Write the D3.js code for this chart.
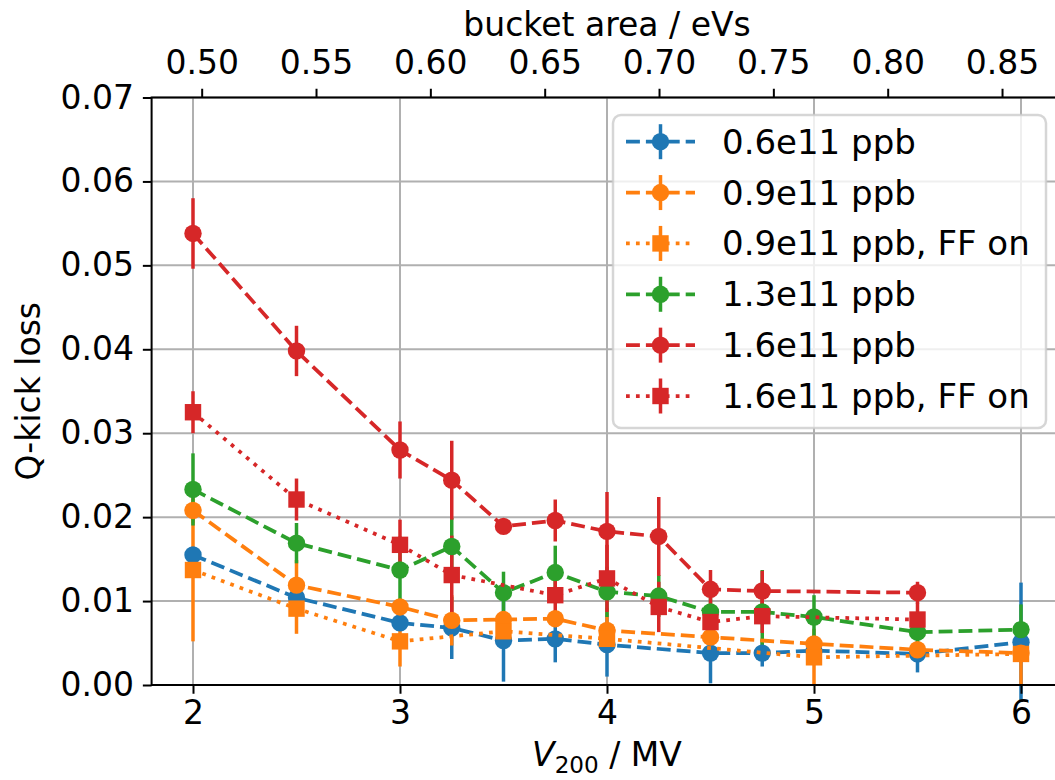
<!DOCTYPE html>
<html>
<meta charset="utf-8">
<title>Q-kick loss vs V200</title>
<style>
body { margin: 0; background: #fff; }
text { font-family: "DejaVu Sans", sans-serif; fill: #000; }
</style>
<body>
<svg id="chart" width="1055" height="780"></svg>
<script src="https://d3js.org/d3.v7.min.js"></script>
<script>
// ---- data ----
var seriesLabels = ["0.6e11 ppb", "0.9e11 ppb", "0.9e11 ppb, FF on", "1.3e11 ppb", "1.6e11 ppb", "1.6e11 ppb, FF on"];

var v06    = [2, 2.5, 3, 3.25, 3.5, 3.75, 4, 4.5, 4.75, 5, 5.5, 6];
var loss06 = [0.0155, 0.0104, 0.0074, 0.0068, 0.0053, 0.0055, 0.0048, 0.0038, 0.0038, 0.0041, 0.0037, 0.0051];
var err06  = [0.001, 0.001, 0.001, 0.0037, 0.0049, 0.0028, 0.0038, 0.0036, 0.0016, 0.001, 0.0022, 0.0071];

var v09    = [2, 2.5, 3, 3.25, 3.5, 3.75, 4, 4.5, 5, 5.5, 6];
var loss09 = [0.0208, 0.0119, 0.0093, 0.0077, 0.0078, 0.0079, 0.0065, 0.0057, 0.0049, 0.0042, 0.0038];
var err09  = [0.0015, 0.003, 0.001, 0.003, 0.001, 0.001, 0.0027, 0.001, 0.001, 0.001, 0.001];

var v09ff    = [2, 2.5, 3, 3.5, 4, 5, 6];
var loss09ff = [0.0137, 0.0091, 0.0052, 0.0064, 0.0055, 0.0033, 0.0037];
var err09ff  = [0.0085, 0.003, 0.003, 0.001, 0.001, 0.0034, 0.0037];

var v13    = [2, 2.5, 3, 3.25, 3.5, 3.75, 4, 4.25, 4.5, 4.75, 5, 5.5, 6];
var loss13 = [0.0233, 0.0169, 0.0137, 0.0165, 0.0110, 0.0134, 0.0111, 0.0106, 0.0087, 0.0087, 0.0081, 0.0063, 0.0066];
var err13  = [0.0043, 0.0024, 0.004, 0.0034, 0.0025, 0.0032, 0.003, 0.0025, 0.002, 0.005, 0.0026, 0.0015, 0.003];

var v16    = [2, 2.5, 3, 3.25, 3.5, 3.75, 4, 4.25, 4.5, 4.75, 5.5];
var loss16 = [0.0538, 0.0398, 0.0280, 0.0244, 0.0189, 0.0196, 0.0183, 0.0177, 0.0114, 0.0112, 0.0110];
var err16  = [0.0042, 0.0030, 0.0034, 0.0047, 0.0005, 0.0025, 0.0047, 0.0047, 0.0023, 0.0024, 0.0013];

var v16ff    = [2, 2.5, 3, 3.25, 3.75, 4, 4.25, 4.5, 4.75, 5.5];
var loss16ff = [0.0325, 0.0221, 0.0167, 0.0131, 0.0107, 0.0127, 0.0093, 0.0075, 0.0082, 0.0078];
var err16ff  = [0.0025, 0.0025, 0.003, 0.0047, 0.0025, 0.004, 0.003, 0.002, 0.002, 0.002];

var voltTicks = [2, 3, 4, 5, 6];
var lossTicks = [0, 0.01, 0.02, 0.03, 0.04, 0.05, 0.06, 0.07];
var areaTicks = [0.50, 0.55, 0.60, 0.65, 0.70, 0.75, 0.80, 0.85];
var voltDomain = [1.8, 6.2];
var areaDomain = [0.4781, 0.8764];

// ---- style ----
var colors = ["#1f77b4", "#ff7f0e", "#ff7f0e", "#2ca02c", "#d62728", "#d62728"];
var markers = ["circle", "circle", "square", "circle", "circle", "square"];
var dashes = ["dash", "dash", "dot", "dash", "dash", "dot"];
var dashArr = {dash: "13.9,6", dot: "3.75,6.2"};
var fs = 33, legFs = 34, lw = 3.75;

function zip(v, l, e) { return v.map(function (d, i) { return {v: d, loss: l[i], err: e[i]}; }); }
var series = [zip(v06, loss06, err06), zip(v09, loss09, err09), zip(v09ff, loss09ff, err09ff),
              zip(v13, loss13, err13), zip(v16, loss16, err16), zip(v16ff, loss16ff, err16ff)];

var svg = d3.select("#chart");
var plotL = 151.6, plotR = 1062.4, plotT = 97.5, plotB = 685;

var x = d3.scaleLinear().domain(voltDomain).range([plotL, plotR]);
var xTop = d3.scaleLinear().domain(areaDomain).range([plotL, plotR]);
var y = d3.scaleLinear().domain([0, 0.07]).range([plotB, plotT]);

// grid
var grid = svg.append("g");
grid.selectAll(".gx").data(voltTicks).enter().append("line")
  .attr("x1", d => x(d)).attr("x2", d => x(d)).attr("y1", plotT).attr("y2", plotB)
  .attr("stroke", "#b0b0b0").attr("stroke-width", 2);
grid.selectAll(".gy").data(lossTicks).enter().append("line")
  .attr("x1", plotL).attr("x2", plotR).attr("y1", d => y(d)).attr("y2", d => y(d))
  .attr("stroke", "#b0b0b0").attr("stroke-width", 2);

// error bars (below all lines)
var bars = svg.append("g");
series.forEach(function (s, i) {
  bars.selectAll(null).data(s).enter().append("line")
    .attr("x1", d => x(d.v)).attr("x2", d => x(d.v))
    .attr("y1", d => y(d.loss - d.err)).attr("y2", d => y(d.loss + d.err))
    .attr("stroke", colors[i]).attr("stroke-width", 3.5);
});

function drawMarker(g, kind, cx, cy, color) {
  if (kind === "circle") {
    g.append("circle").attr("cx", cx).attr("cy", cy).attr("r", 8.7).attr("fill", color);
  } else {
    g.append("rect").attr("x", cx - 8.2).attr("y", cy - 8.2).attr("width", 16.4).attr("height", 16.4).attr("fill", color);
  }
}

var line = d3.line().x(d => x(d.v)).y(d => y(d.loss));
series.forEach(function (s, i) {
  var g = svg.append("g");
  g.append("path").attr("d", line(s)).attr("fill", "none")
    .attr("stroke", colors[i]).attr("stroke-width", lw)
    .attr("stroke-dasharray", dashArr[dashes[i]]);
  s.forEach(function (d) { drawMarker(g, markers[i], x(d.v), y(d.loss), colors[i]); });
});

// spines
svg.append("rect").attr("x", plotL).attr("y", plotT).attr("width", plotR - plotL).attr("height", plotB - plotT)
  .attr("fill", "none").attr("stroke", "#000").attr("stroke-width", 2);

// axes
function styleAxis(g) {
  g.select(".domain").remove();
  g.selectAll(".tick line").attr("stroke", "#000").attr("stroke-width", 2);
  g.selectAll(".tick text").attr("font-size", fs).attr("font-family", "DejaVu Sans");
}
var axB = svg.append("g").attr("transform", "translate(0," + plotB + ")")
  .call(d3.axisBottom(x).tickValues(voltTicks).tickFormat(d3.format("d")).tickSize(8.75).tickPadding(8.75));
styleAxis(axB);
axB.selectAll(".tick text").attr("dy", "0.64em");

var axL = svg.append("g").attr("transform", "translate(" + plotL + ",0)")
  .call(d3.axisLeft(y).tickValues(lossTicks).tickFormat(d3.format(".2f")).tickSize(8.75).tickPadding(8.75));
styleAxis(axL);

var axT = svg.append("g").attr("transform", "translate(0," + plotT + ")")
  .call(d3.axisTop(xTop).tickValues(areaTicks).tickFormat(d3.format(".2f")).tickSize(8.75).tickPadding(8.75));
styleAxis(axT);
axT.selectAll(".tick text").attr("dy", "-0.18em");

// axis labels
svg.append("text").attr("x", (plotL + plotR) / 2).attr("y", 36).attr("text-anchor", "middle")
  .attr("font-size", fs).text("bucket area / eVs");

svg.append("text").attr("transform", "translate(40," + (plotT + plotB) / 2 + ") rotate(-90)")
  .attr("text-anchor", "middle").attr("font-size", fs).text("Q-kick loss");

var xl = svg.append("text").attr("x", (plotL + plotR) / 2).attr("y", 766).attr("text-anchor", "middle").attr("font-size", fs);
xl.append("tspan").attr("font-style", "italic").text("V");
xl.append("tspan").attr("font-size", fs * 0.7).attr("dy", 7).text("200");
xl.append("tspan").attr("dy", -7).text(" / MV");

// legend
var lg = svg.append("g");
lg.append("rect").attr("x", 613).attr("y", 115).attr("width", 433).attr("height", 313)
  .attr("rx", 8).attr("ry", 8)
  .attr("fill", "#fff").attr("fill-opacity", 0.8)
  .attr("stroke", "#cccccc").attr("stroke-opacity", 0.8).attr("stroke-width", 2.5);
var rowY = d3.scaleLinear().domain([0, 5]).range([141.7, 396]);
seriesLabels.forEach(function (lab, i) {
  var cy = rowY(i), c = colors[i];
  lg.append("line").attr("x1", 626).attr("x2", 695).attr("y1", cy).attr("y2", cy)
    .attr("stroke", c).attr("stroke-width", lw).attr("stroke-dasharray", dashArr[dashes[i]]);
  lg.append("line").attr("x1", 660.5).attr("x2", 660.5).attr("y1", cy - 17.5).attr("y2", cy + 17.5)
    .attr("stroke", c).attr("stroke-width", 3.5);
  drawMarker(lg, markers[i], 660.5, cy, c);
  lg.append("text").attr("x", 722).attr("y", cy + 12).attr("font-size", legFs).text(lab);
});
</script>
</body>
</html>
